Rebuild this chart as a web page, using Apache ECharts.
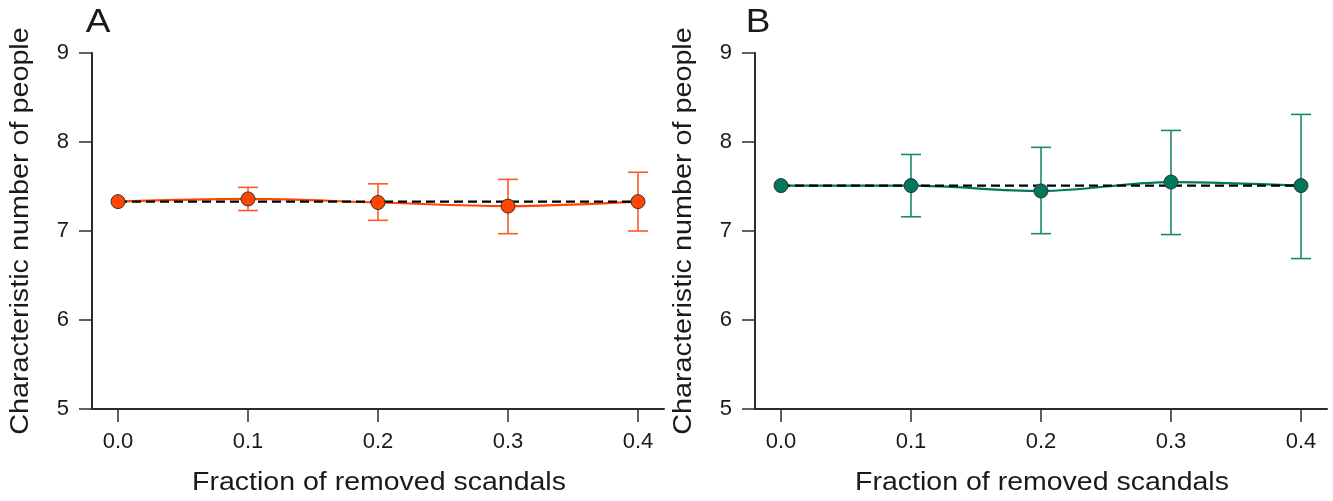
<!DOCTYPE html>
<html>
<head>
<meta charset="utf-8">
<script src="https://cdn.jsdelivr.net/npm/echarts@6/dist/echarts.min.js"></script>
<style>
html,body{margin:0;padding:0;background:#fff;}
#chart{width:1333px;height:501px;}
</style>
</head>
<body>
<div id="chart"></div>
<script>
// ---- data ----
const fractions = [0, 0.1, 0.2, 0.3, 0.4];
const xTicks = [0, 0.1, 0.2, 0.3, 0.4];
const meanA = [7.33, 7.36, 7.32, 7.28, 7.33];
const lowA = [null, 7.23, 7.12, 6.97, 7.00];
const highA = [null, 7.49, 7.53, 7.58, 7.66];
const baselineA = 7.33;
const meanB = [7.51, 7.51, 7.45, 7.55, 7.51];
const lowB = [null, 7.16, 6.97, 6.96, 6.69];
const highB = [null, 7.86, 7.94, 8.13, 8.31];
const baselineB = 7.51;
const xName = 'Fraction of removed scandals';
const yName = 'Characteristic number of people';
const panelLabels = ['A', 'B'];

// ---- style ----
const FONT = '"Liberation Sans", Arial, Helvetica, sans-serif';
const TXT = '#1a1a1a';
const AXC = '#2b2b2b';
const colA = '#FF4500', errA = '#FF5A26';
const colB = '#00785C', errB = '#1A8A6C';

const chart = echarts.init(document.getElementById('chart'), null, {renderer: 'canvas'});

function pts(xs, ys) { return xs.map((x, i) => [x, ys[i]]); }
function errData(xs, lo, hi) {
  const out = [];
  xs.forEach((x, i) => { if (lo[i] != null && hi[i] != null) out.push([x, lo[i], hi[i]]); });
  return out;
}
function errSeries(idx, data, color) {
  return {
    type: 'custom', xAxisIndex: idx, yAxisIndex: idx, z: 1, silent: true,
    data: data,
    renderItem: function (params, api) {
      const x = api.value(0);
      const a = api.coord([x, api.value(1)]);
      const b = api.coord([x, api.value(2)]);
      const hw = 10;
      const st = {stroke: color, lineWidth: 1.6};
      return {type: 'group', children: [
        {type: 'line', shape: {x1: a[0], y1: a[1], x2: b[0], y2: b[1]}, style: st},
        {type: 'line', shape: {x1: a[0] - hw, y1: a[1], x2: a[0] + hw, y2: a[1]}, style: st},
        {type: 'line', shape: {x1: b[0] - hw, y1: b[1], x2: b[0] + hw, y2: b[1]}, style: st}
      ]};
    }
  };
}
function xAxis(idx) {
  return {
    type: 'value', gridIndex: idx, min: -0.02, max: 0.42,
    axisLine: {show: true, onZero: false, lineStyle: {color: AXC, width: 2}},
    axisTick: {show: true, customValues: xTicks, length: 13, lineStyle: {color: AXC, width: 1.5}},
    axisLabel: {customValues: xTicks, margin: 22, fontSize: 22, color: TXT, fontFamily: FONT,
      formatter: v => Number(v).toFixed(1)},
    splitLine: {show: false}
  };
}
function yAxis(idx) {
  return {
    type: 'value', gridIndex: idx, min: 5, max: 9, interval: 1,
    axisLine: {show: true, onZero: false, lineStyle: {color: AXC, width: 2}},
    axisTick: {show: true, length: 13, lineStyle: {color: AXC, width: 1.5}},
    axisLabel: {margin: 23, fontSize: 22, color: TXT, fontFamily: FONT},
    splitLine: {show: false}
  };
}
function panelSeries(idx, mean, lo, hi, base, col, ecol) {
  return [
    errSeries(idx, errData(fractions, lo, hi), ecol),
    {type: 'line', xAxisIndex: idx, yAxisIndex: idx, z: 2, data: pts(fractions, mean),
      smooth: 0.35, showSymbol: false, symbol: 'none', lineStyle: {color: col, width: 2.2}, silent: true},
    {type: 'line', xAxisIndex: idx, yAxisIndex: idx, z: 3,
      data: [[fractions[0], base], [fractions[fractions.length - 1], base]],
      symbol: 'none', lineStyle: {color: '#000', width: 2.2, type: [9, 5]}, silent: true},
    {type: 'scatter', xAxisIndex: idx, yAxisIndex: idx, z: 4, data: pts(fractions, mean),
      symbol: 'circle', symbolSize: 14,
      itemStyle: {color: col, borderColor: '#333', borderWidth: 1, opacity: 1}, silent: true}
  ];
}
function txt(text, x, y, size, rot, sx) {
  return {type: 'text', x: x, y: y, rotation: rot || 0, scaleX: sx || 1, silent: true,
    style: {text: text, font: size + 'px ' + FONT, fill: TXT, align: 'center', verticalAlign: 'middle'}};
}

const dx = 663;
const option = {
  animation: false,
  backgroundColor: '#fff',
  textStyle: {fontFamily: FONT},
  grid: [
    {left: 92, right: 669, top: 53, bottom: 92},
    {left: 755, right: 6, top: 53, bottom: 92}
  ],
  xAxis: [xAxis(0), xAxis(1)],
  yAxis: [yAxis(0), yAxis(1)],
  series: [].concat(
    panelSeries(0, meanA, lowA, highA, baselineA, colA, errA),
    panelSeries(1, meanB, lowB, highB, baselineB, colB, errB)
  ),
  graphic: [
    txt(panelLabels[0], 98, 23, 33, 0, 1.12),
    txt(panelLabels[1], 98 + dx - 3, 23, 33, 0, 1.12),
    txt(xName, 379, 483, 25, 0, 1.14),
    txt(xName, 379 + dx, 483, 25, 0, 1.14),
    txt(yName, 21, 231, 25, Math.PI / 2, 1.15),
    txt(yName, 21 + dx, 231, 25, Math.PI / 2, 1.15)
  ]
};
chart.setOption(option);
</script>
</body>
</html>
